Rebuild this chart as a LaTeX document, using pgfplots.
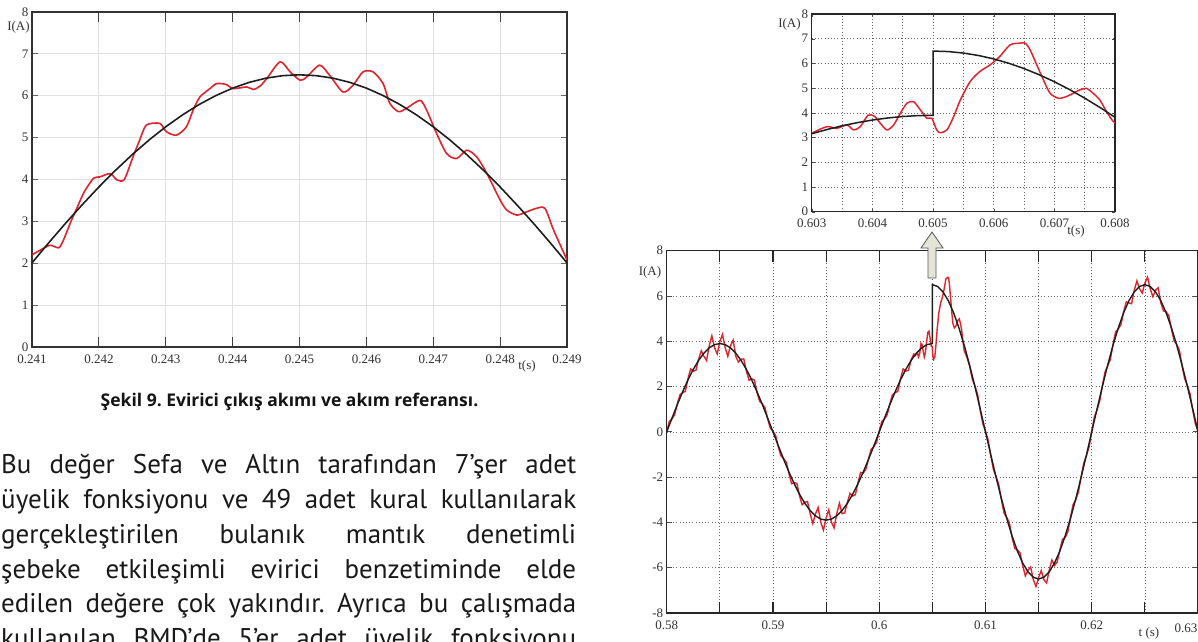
\documentclass[border=0pt]{standalone}
\usepackage{fontspec}
\usepackage{pgfplots}
\usepackage{pgfplotstable}
\pgfplotsset{compat=1.18}
\setmainfont{PT Sans}
\newfontfamily\tnr{Liberation Serif}
\newfontfamily\capfont{Open Sans}
\definecolor{cred}{RGB}{225,35,45}
\definecolor{ccurve}{RGB}{30,30,30}
\definecolor{arrowfill}{RGB}{228,228,216}
\frenchspacing

\pgfplotstableread{
t v
0.24100 2.20
0.24112 2.31
0.24127 2.43
0.24140 2.37
0.24147 2.55
0.24157 2.95
0.24168 3.35
0.24178 3.70
0.24192 4.03
0.24201 4.06
0.24217 4.14
0.24227 3.99
0.24238 4.00
0.24251 4.54
0.24261 4.94
0.24271 5.30
0.24291 5.34
0.24301 5.14
0.24316 5.06
0.24331 5.26
0.24341 5.66
0.24351 5.97
0.24366 6.17
0.24376 6.29
0.24390 6.27
0.24401 6.17
0.24421 6.21
0.24431 6.15
0.24441 6.23
0.24451 6.41
0.24471 6.81
0.24486 6.57
0.24501 6.37
0.24511 6.45
0.24530 6.73
0.24545 6.49
0.24565 6.09
0.24580 6.25
0.24595 6.57
0.24610 6.57
0.24625 6.29
0.24635 5.82
0.24648 5.62
0.24660 5.70
0.24680 5.89
0.24690 5.66
0.24705 5.10
0.24720 4.62
0.24735 4.50
0.24750 4.70
0.24765 4.54
0.24780 4.15
0.24800 3.51
0.24810 3.27
0.24825 3.15
0.24840 3.23
0.24854 3.31
0.24867 3.31
0.24880 2.79
0.24900 2.08
}\redA

\pgfplotstableread{
t v
0.24100 2.009
0.24125 2.488
0.24150 2.951
0.24175 3.396
0.24200 3.821
0.24225 4.221
0.24250 4.596
0.24275 4.943
0.24300 5.259
0.24325 5.542
0.24350 5.792
0.24375 6.005
0.24400 6.182
0.24425 6.321
0.24450 6.420
0.24475 6.480
0.24500 6.500
0.24525 6.480
0.24550 6.420
0.24575 6.321
0.24600 6.182
0.24625 6.005
0.24650 5.792
0.24675 5.542
0.24700 5.259
0.24725 4.943
0.24750 4.596
0.24775 4.221
0.24800 3.821
0.24825 3.396
0.24850 2.951
0.24875 2.488
0.24900 2.009
}\blackA

\pgfplotstableread{
t v
0.58000 0.03
0.58025 0.46
0.58050 0.57
0.58075 0.76
0.58100 1.24
0.58125 1.64
0.58150 1.73
0.58175 1.79
0.58200 2.34
0.58225 2.78
0.58250 2.68
0.58275 2.72
0.58300 3.21
0.58325 3.58
0.58350 3.34
0.58375 3.15
0.58400 3.80
0.58425 4.24
0.58450 3.72
0.58475 3.44
0.58500 3.99
0.58525 4.30
0.58550 3.72
0.58575 3.34
0.58600 3.80
0.58625 4.05
0.58650 3.34
0.58675 3.08
0.58700 3.21
0.58725 3.22
0.58750 2.68
0.58775 2.28
0.58800 2.34
0.58825 2.29
0.58850 1.73
0.58875 1.34
0.58900 1.24
0.58925 1.06
0.58950 0.57
0.58975 0.16
0.59000 0.03
0.59025 -0.16
0.59050 -0.66
0.59075 -1.06
0.59100 -1.18
0.59125 -1.34
0.59150 -1.82
0.59175 -2.29
0.59200 -2.24
0.59225 -2.28
0.59250 -2.83
0.59275 -3.22
0.59300 -3.11
0.59325 -3.08
0.59350 -3.61
0.59375 -4.05
0.59400 -3.62
0.59425 -3.34
0.59450 -3.99
0.59475 -4.34
0.59500 -3.81
0.59525 -3.44
0.59550 -3.99
0.59575 -4.24
0.59600 -3.62
0.59625 -3.15
0.59650 -3.61
0.59675 -3.58
0.59700 -3.11
0.59725 -2.72
0.59750 -2.83
0.59775 -2.78
0.59800 -2.24
0.59825 -1.79
0.59850 -1.82
0.59875 -1.64
0.59900 -1.18
0.59925 -0.76
0.59950 -0.66
0.59975 -0.46
0.60000 0.03
0.60025 0.46
0.60050 0.57
0.60075 0.76
0.60100 1.24
0.60125 1.64
0.60150 1.73
0.60175 1.79
0.60200 2.34
0.60225 2.78
0.60250 2.68
0.60275 2.72
0.60300 3.17
0.60325 3.44
0.60341 3.37
0.60358 3.51
0.60369 3.31
0.60380 3.44
0.60393 3.91
0.60404 3.85
0.60413 3.58
0.60424 3.31
0.60435 3.51
0.60446 3.98
0.60457 4.39
0.60468 4.45
0.60479 4.12
0.60490 3.78
0.60498 3.78
0.60506 3.31
0.60512 3.20
0.60523 3.31
0.60534 3.85
0.60545 4.52
0.60561 5.26
0.60577 5.67
0.60594 5.94
0.60610 6.28
0.60627 6.75
0.60643 6.82
0.60652 6.82
0.60660 6.55
0.60671 5.94
0.60682 5.33
0.60693 4.79
0.60707 4.59
0.60720 4.66
0.60731 4.79
0.60742 4.93
0.60753 4.99
0.60764 4.79
0.60775 4.52
0.60786 4.05
0.60800 3.58
0.60825 3.30
0.60850 2.91
0.60875 2.34
0.60900 2.04
0.60925 1.67
0.60950 0.97
0.60975 0.36
0.61000 0.03
0.61025 -0.36
0.61050 -1.06
0.61075 -1.67
0.61100 -1.98
0.61125 -2.34
0.61150 -3.00
0.61175 -3.60
0.61200 -3.78
0.61225 -4.02
0.61250 -4.66
0.61275 -5.14
0.61300 -5.22
0.61325 -5.34
0.61350 -5.90
0.61375 -6.36
0.61400 -6.11
0.61425 -5.97
0.61450 -6.53
0.61475 -6.83
0.61500 -6.43
0.61525 -6.13
0.61550 -6.53
0.61575 -6.67
0.61600 -6.11
0.61625 -5.66
0.61650 -5.90
0.61675 -5.74
0.61700 -5.22
0.61725 -4.74
0.61750 -4.66
0.61775 -4.42
0.61800 -3.78
0.61825 -3.20
0.61850 -3.00
0.61875 -2.64
0.61900 -1.98
0.61925 -1.37
0.61950 -1.06
0.61975 -0.66
0.62000 0.03
0.62025 0.66
0.62050 0.97
0.62075 1.37
0.62100 2.04
0.62125 2.64
0.62150 2.91
0.62175 3.20
0.62200 3.86
0.62225 4.42
0.62250 4.54
0.62275 4.74
0.62300 5.30
0.62325 5.74
0.62350 5.69
0.62375 5.66
0.62400 6.25
0.62425 6.67
0.62450 6.32
0.62475 6.13
0.62500 6.57
0.62525 6.83
0.62550 6.32
0.62575 5.97
0.62600 6.25
0.62625 6.36
0.62650 5.69
0.62675 5.34
0.62700 5.30
0.62725 5.14
0.62750 4.54
0.62775 4.02
0.62800 3.86
0.62825 3.60
0.62850 2.91
0.62875 2.34
0.62900 2.04
0.62925 1.67
0.62950 0.97
0.62975 0.36
0.63000 0.03
}\redM

\pgfplotstableread{
t v
0.5800 0
0.5805 0.610
0.5810 1.205
0.5815 1.771
0.5820 2.292
0.5825 2.758
0.5830 3.155
0.5835 3.475
0.5840 3.709
0.5845 3.852
0.5850 3.900
0.5855 3.852
0.5860 3.709
0.5865 3.475
0.5870 3.155
0.5875 2.758
0.5880 2.292
0.5885 1.771
0.5890 1.205
0.5895 0.610
0.5900 0
0.5905 -0.610
0.5910 -1.205
0.5915 -1.771
0.5920 -2.292
0.5925 -2.758
0.5930 -3.155
0.5935 -3.475
0.5940 -3.709
0.5945 -3.852
0.5950 -3.900
0.5955 -3.852
0.5960 -3.709
0.5965 -3.475
0.5970 -3.155
0.5975 -2.758
0.5980 -2.292
0.5985 -1.771
0.5990 -1.205
0.5995 -0.610
0.6000 0
0.6005 0.610
0.6010 1.205
0.6015 1.771
0.6020 2.292
0.6025 2.758
0.6030 3.155
0.6035 3.475
0.6040 3.709
0.6045 3.852
0.6050 3.900
0.6050 6.500
0.6055 6.420
0.6060 6.182
0.6065 5.792
0.6070 5.259
0.6075 4.596
0.6080 3.821
0.6085 2.951
0.6090 2.009
0.6095 1.017
0.6100 0
0.6105 -1.017
0.6110 -2.009
0.6115 -2.951
0.6120 -3.821
0.6125 -4.596
0.6130 -5.259
0.6135 -5.792
0.6140 -6.182
0.6145 -6.420
0.6150 -6.500
0.6155 -6.420
0.6160 -6.182
0.6165 -5.792
0.6170 -5.259
0.6175 -4.596
0.6180 -3.821
0.6185 -2.951
0.6190 -2.009
0.6195 -1.017
0.6200 0
0.6205 1.017
0.6210 2.009
0.6215 2.951
0.6220 3.821
0.6225 4.596
0.6230 5.259
0.6235 5.792
0.6240 6.182
0.6245 6.420
0.6250 6.500
0.6255 6.420
0.6260 6.182
0.6265 5.792
0.6270 5.259
0.6275 4.596
0.6280 3.821
0.6285 2.951
0.6290 2.009
0.6295 1.017
0.6300 0
}\blackM

\pgfplotstableread{
t v
0.60300 3.155
0.60325 3.325
0.60350 3.475
0.60375 3.603
0.60400 3.709
0.60425 3.792
0.60450 3.852
0.60475 3.888
0.60500 3.900
0.60500 6.500
0.60525 6.480
0.60550 6.420
0.60575 6.321
0.60600 6.182
0.60625 6.005
0.60650 5.792
0.60675 5.542
0.60700 5.259
0.60725 4.943
0.60750 4.596
0.60775 4.221
0.60800 3.821
}\blackI

\begin{document}
\begin{tikzpicture}
\useasboundingbox (0pt,0pt) rectangle (1198pt,641pt);
\clip (0pt,0pt) rectangle (1198pt,641pt);
\fill[white] (0pt,0pt) rectangle (1198pt,641pt);

% ---------- chart 1 ----------
\begin{axis}[at={(32pt,294pt)}, anchor=south west, scale only axis,
  width=535pt, height=335pt,
  xmin=0.241, xmax=0.249, ymin=0, ymax=8,
  xtick={0.241,0.242,0.243,0.244,0.245,0.246,0.247,0.248,0.249},
  xticklabels={0.241,0.242,0.243,0.244,0.245,0.246,0.247,0.248,0.249},
  ytick={0,1,2,3,4,5,6,7,8},
  yticklabels={0,1,2,3,4,5,6,7,8},
  scaled ticks=false,
  tick label style={font=\tnr\fontsize{13}{13}\selectfont, text=black!80},
  xticklabel style={yshift=-4pt},
  grid=major, major grid style={draw=black!12, line width=0.9pt},
  tick align=inside, xtick pos=both, ytick pos=both,
  xtick style={/pgfplots/major tick length=10pt, black!75, line width=1pt},
  ytick style={/pgfplots/major tick length=6pt, black!60, line width=0.8pt},
  axis line style={black!80, line width=1.3pt},
]
\addplot[cred, line width=1.6pt, smooth, tension=0.45] table {\redA};
\addplot[ccurve, line width=1.6pt] table {\blackA};
\end{axis}
\node[font=\tnr\fontsize{13}{13}\selectfont, text=black!80] at (18.5pt,613.5pt) {I(A)};
\node[font=\tnr\fontsize{13}{13}\selectfont, text=black!80] at (527pt,275pt) {t(s)};

% ---------- inset ----------
\begin{axis}[at={(811.7pt,429.3pt)}, anchor=south west, scale only axis,
  width=303.3pt, height=197.7pt,
  xmin=0.603, xmax=0.608, ymin=0, ymax=8,
  xtick={0.603,0.604,0.605,0.606,0.607,0.608},
  xticklabels={0.603,0.604,0.605,0.606,0.607,0.608},
  minor xtick={0.6035,0.6045,0.6055,0.6065,0.6075},
  ytick={0,1,2,3,4,5,6,7,8},
  yticklabels={0,1,2,3,4,5,6,7,8},
  scaled ticks=false,
  tick label style={font=\tnr\fontsize{13}{13}\selectfont, text=black!80},
  xticklabel style={yshift=-4pt},
  grid=both,
  major grid style={draw=black!60, line width=0.7pt, dash pattern=on 0.8pt off 2.4pt},
  minor grid style={draw=black!60, line width=0.7pt, dash pattern=on 0.8pt off 2.4pt},
  tick align=inside, major tick length=3pt, minor tick length=0pt,
  tick style={black!70},
  axis line style={black!85, line width=1.3pt},
]
\addplot[cred, line width=1.5pt, smooth, tension=0.45] table {\redM};
\addplot[ccurve, line width=1.5pt] table {\blackI};
\end{axis}
\node[font=\tnr\fontsize{13}{13}\selectfont, text=black!80] at (789.5pt,617pt) {I(A)};
\node[font=\tnr\fontsize{13}{13}\selectfont, text=black!80] at (1076pt,410pt) {t(s)};

% ---------- main ----------
\begin{axis}[at={(666.7pt,28pt)}, anchor=south west, scale only axis,
  width=531.3pt, height=362.3pt,
  xmin=0.58, xmax=0.63, ymin=-8, ymax=8,
  xtick={0.58,0.585,0.59,0.595,0.6,0.605,0.61,0.615,0.62,0.625,0.63},
  xticklabels={0.58,,0.59,,0.6,,0.61,,0.62,,},
  ytick={-8,-6,-4,-2,0,2,4,6,8},
  yticklabels={-8,-6,-4,-2,0,2,4,6,8},
  scaled ticks=false,
  tick label style={font=\tnr\fontsize{13}{13}\selectfont, text=black!80},
  xticklabel style={yshift=-4pt},
  grid=major,
  major grid style={draw=black!60, line width=0.7pt, dash pattern=on 0.8pt off 2.4pt},
  tick align=inside, xtick pos=both, ytick pos=both,
  xtick style={/pgfplots/major tick length=11pt, black!85, line width=1.1pt},
  ytick style={/pgfplots/major tick length=5pt, black!70, line width=0.8pt},
  axis line style={black!85, line width=1.3pt},
]
\addplot[cred, line width=1.4pt] table {\redM};
\addplot[ccurve, line width=1.4pt] table {\blackM};
\end{axis}
\node[font=\tnr\fontsize{13}{13}\selectfont, text=black!80] at (650pt,368.5pt) {I(A)};
\node[font=\tnr\fontsize{13}{13}\selectfont, text=black!80] at (1149pt,8pt) {t (s)};
\node[font=\tnr\fontsize{13}{13}\selectfont, text=black!80] at (1186pt,13pt) {0.63};

% arrow
\filldraw[fill=arrowfill, draw=black!65, line width=0.8pt]
  (928pt,363pt) -- (936pt,363pt) -- (936pt,393pt) -- (943pt,393pt) -- (932pt,409pt)
  -- (921pt,393pt) -- (928pt,393pt) -- cycle;

% ---------- caption and text ----------
\node[anchor=base, inner sep=0pt, font=\capfont\bfseries\fontsize{17.5}{17.5}\selectfont, text=black!92]
  at (289.5pt,235pt) {Şekil 9. Evirici çıkış akımı ve akım referansı.};
\begin{scope}[every node/.style={anchor=base west, inner sep=0pt,
    font=\fontsize{27}{27}\selectfont, text=black!90}]
\node at (1pt,167.7pt) {\makebox[575pt][s]{Bu değer Sefa ve Altın tarafından 7’şer adet}};
\node at (1pt,132.8pt) {\makebox[575pt][s]{üyelik fonksiyonu ve 49 adet kural kullanılarak}};
\node at (1pt,97.9pt) {\makebox[575pt][s]{gerçekleştirilen bulanık mantık denetimli}};
\node at (1pt,63.0pt) {\makebox[575pt][s]{şebeke etkileşimli evirici benzetiminde elde}};
\node at (1pt,28.1pt) {\makebox[575pt][s]{edilen değere çok yakındır. Ayrıca bu çalışmada}};
\node at (1pt,-6.8pt) {\makebox[575pt][s]{kullanılan BMD’de 5’er adet üyelik fonksiyonu}};
\end{scope}
\end{tikzpicture}
\end{document}
